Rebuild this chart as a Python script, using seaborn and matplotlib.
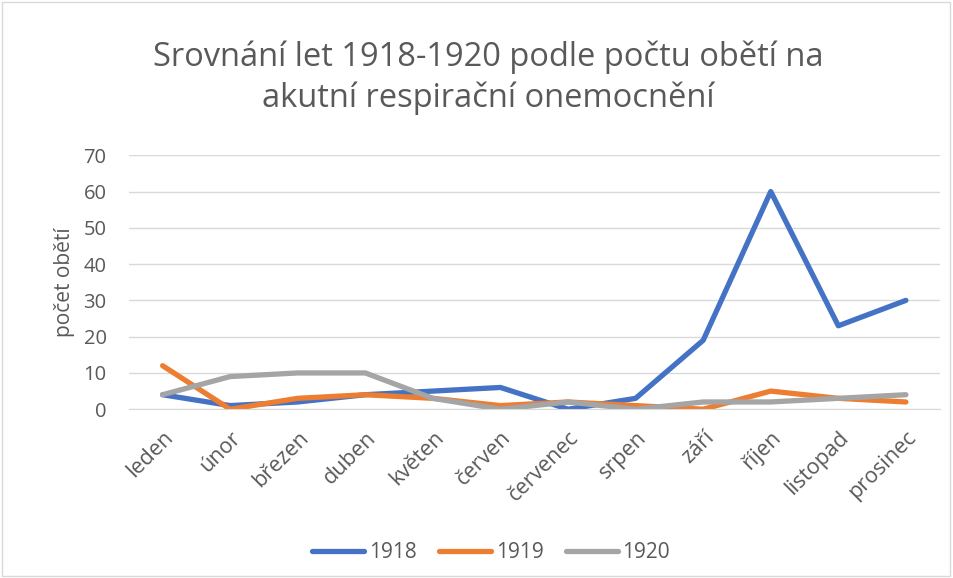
import numpy as np
import pandas as pd
import seaborn as sns
import matplotlib.pyplot as plt
from matplotlib.patches import Rectangle

# data
mesice = ['leden', 'únor', 'březen', 'duben', 'květen', 'červen',
          'červenec', 'srpen', 'září', 'říjen', 'listopad', 'prosinec']
r1918 = [4, 1, 2, 4, 5, 6, 0, 3, 19, 60, 23, 30]
r1919 = [12, 0, 3, 4, 3, 1, 2, 1, 0, 5, 3, 2]
r1920 = [4, 9, 10, 10, 3, 0, 2, 0, 2, 2, 3, 4]
roky = ['1918', '1919', '1920']
barvy = ['#4472C4', '#ED7D31', '#A5A5A5']

df = pd.DataFrame({'mesic': mesice * 3,
                   'obeti': r1918 + r1919 + r1920,
                   'rok': np.repeat(roky, len(mesice))})
df['mesic'] = pd.Categorical(df['mesic'], categories=mesice, ordered=True)

sns.set_style('white')
plt.rcParams['font.family'] = ['Open Sans', 'DejaVu Sans']
seda = '#595959'

fig = plt.figure(figsize=(9.54, 5.78), dpi=100)
ax = fig.add_axes([0.135, 0.292, 0.850, 0.4394])

x = df['mesic'].cat.codes
sns.lineplot(x=x, y=df['obeti'], hue=df['rok'], palette=barvy,
             linewidth=3.8, ax=ax, sort=False, legend=True)

ax.set_xlim(-0.5, 11.5)
ax.set_ylim(0, 70)
ax.set_yticks(range(0, 71, 10))
ax.set_xticks(range(len(mesice)))
ax.set_xticklabels(mesice, rotation=45, ha='right', rotation_mode='anchor')
ax.grid(axis='y', color='#D9D9D9', linewidth=1)
ax.set_axisbelow(True)
for s in ['top', 'right', 'left']:
    ax.spines[s].set_visible(False)
ax.spines['bottom'].set_color('#D9D9D9')
ax.tick_params(axis='both', length=0, colors=seda)
ax.tick_params(axis='y', pad=16, labelsize=14.5)
ax.tick_params(axis='x', pad=13, labelsize=15.5)
ax.set_xlabel('')
ax.set_ylabel('počet obětí', fontsize=15, color=seda, labelpad=6)

fig.text(0.512, 0.866, 'Srovnání let 1918-1920 podle počtu obětí na\nakutní respirační onemocnění',
         ha='center', va='center', fontsize=23.5, color=seda, linespacing=1.3)

leg = ax.legend(loc='lower center', bbox_to_anchor=(0.447, -0.68), ncol=3, frameon=False,
                fontsize=15, handlelength=2.5, columnspacing=1.1, handletextpad=0.2)
for t in leg.get_texts():
    t.set_color(seda)
for h in leg.get_lines():
    h.set_linewidth(3.8)
    h.set_solid_capstyle('round')

fig.patches.append(Rectangle((0.002, 0.003), 0.994, 0.994, transform=fig.transFigure,
                             fill=False, edgecolor='#D9D9D9', linewidth=1))

fig.savefig('out.png', dpi=100)
